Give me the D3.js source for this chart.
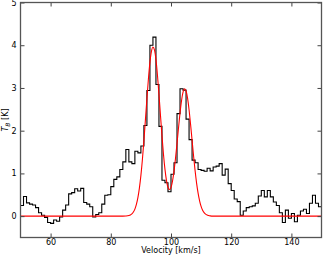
<!DOCTYPE html>
<html>
<head>
<meta charset="utf-8">
<script src="https://cdn.jsdelivr.net/npm/d3@7"></script>
<style>
body { margin: 0; background: #fff; }
svg { display: block; font-family: "DejaVu Sans", sans-serif; }
</style>
</head>
<body>
<div id="chart"></div>
<script>
// spectrum channels (left edge of each 1 km/s channel) and brightness temperature
var velocity = [50, 51, 52, 53, 54, 55, 56, 57, 58, 59,
	60, 61, 62, 63, 64, 65, 66, 67, 68, 69,
	70, 71, 72, 73, 74, 75, 76, 77, 78, 79,
	80, 81, 82, 83, 84, 85, 86, 87, 88, 89,
	90, 91, 92, 93, 94, 95, 96, 97, 98, 99,
	100, 101, 102, 103, 104, 105, 106, 107, 108, 109,
	110, 111, 112, 113, 114, 115, 116, 117, 118, 119,
	120, 121, 122, 123, 124, 125, 126, 127, 128, 129,
	130, 131, 132, 133, 134, 135, 136, 137, 138, 139,
	140, 141, 142, 143, 144, 145, 146, 147, 148, 149];
var tb = [0.25, 0.46, 0.31, 0.28, 0.26, 0.2, 0.08, 0.02, -0.03, -0.15,
	-0.17, -0.09, -0.12, -0.02, 0.14, 0.26, 0.52, 0.55, 0.64, 0.59,
	0.65, 0.32, 0.28, 0.22, -0.02, 0.04, 0.08, 0.28, 0.49, 0.5,
	0.69, 0.86, 0.92, 1.09, 1.27, 1.56, 1.27, 1.23, 1.52, 1.48,
	1.64, 2.12, 2.94, 4.0, 4.19, 3.08, 2.1, 0.84, 0.78, 0.57,
	0.98, 1.25, 2.4, 2.98, 2.95, 2.27, 1.79, 1.31, 1.25, 1.09,
	1.07, 1.05, 1.12, 1.06, 1.15, 1.17, 1.23, 0.96, 1.1, 0.76,
	0.6, 0.4, 0.34, 0.02, 0.12, 0.2, 0.22, 0.24, 0.3, 0.47,
	0.6, 0.45, 0.6, 0.45, 0.33, 0.25, 0.08, -0.15, 0.14, -0.05,
	0.06, -0.13, 0.02, 0.12, 0.16, 0.06, 0.3, 0.49, 0.3, 0.22];

// two-component fit
var modelV = [50, 84, 85, 86, 86.5, 87, 87.5, 88, 88.5, 89, 89.5, 90, 90.5, 91, 91.5,
	92, 92.5, 93, 93.5, 94, 94.5, 95, 95.5, 96, 96.5, 97, 97.5, 98, 98.5, 99, 99.5,
	100, 100.5, 101, 101.5, 102, 102.5, 103, 103.5, 104, 104.5, 105, 105.5, 106, 106.5,
	107, 107.5, 108, 108.5, 109, 109.5, 110, 110.5, 111, 111.5, 112, 112.5, 113, 114, 150];
var modelT = [0, 0, 0.003, 0.014, 0.028, 0.053, 0.096, 0.165, 0.274, 0.433, 0.655, 0.953, 1.326, 1.766, 2.253,
	2.749, 3.215, 3.599, 3.857, 3.96, 3.891, 3.662, 3.299, 2.852, 2.363, 1.882, 1.45, 1.094, 0.833, 0.676, 0.623,
	0.673, 0.819, 1.052, 1.354, 1.703, 2.07, 2.417, 2.705, 2.9, 2.98, 2.93, 2.76, 2.489, 2.149,
	1.777, 1.408, 1.067, 0.774, 0.538, 0.359, 0.228, 0.139, 0.081, 0.046, 0.024, 0.013, 0.006, 0.001, 0];

var xDomain = [50, 150];
var yDomain = [-0.5, 5];
var xTicks = [60, 80, 100, 120, 140];
var yTicks = [0, 1, 2, 3, 4, 5];

var W = 323, H = 257;
var M = {t: 2.5, r: 1.5, b: 19.5, l: 20.5};

var svg = d3.select('#chart').append('svg')
	.attr('width', W)
	.attr('height', H);

var scaleX = d3.scaleLinear().domain(xDomain).range([M.l, W - M.r]);
var scaleY = d3.scaleLinear().domain(yDomain).range([H - M.b, M.t]);

svg.append('clipPath').attr('id', 'plot-clip')
	.append('rect')
	.attr('x', M.l).attr('y', M.t)
	.attr('width', W - M.r - M.l)
	.attr('height', H - M.b - M.t);

// ** ------- DATA ------- **
var steps = velocity.map(function(v, i) { return {v: v, t: tb[i]}; });
steps.push({v: xDomain[1], t: tb[tb.length - 1]});

var model = modelV.map(function(v, i) { return {v: v, t: modelT[i]}; });

var stepLine = d3.line()
	.x(function(d) { return scaleX(d.v); })
	.y(function(d) { return scaleY(d.t); })
	.curve(d3.curveStepAfter);

var modelLine = d3.line()
	.x(function(d) { return scaleX(d.v); })
	.y(function(d) { return scaleY(d.t); })
	.curve(d3.curveMonotoneX);

var plot = svg.append('g').attr('clip-path', 'url(#plot-clip)');

plot.append('path')
	.datum(steps)
	.attr('d', stepLine)
	.attr('fill', 'none')
	.attr('stroke', '#000')
	.attr('stroke-width', 1.1);

plot.append('path')
	.datum(model)
	.attr('d', modelLine)
	.attr('fill', 'none')
	.attr('stroke', '#ff0000')
	.attr('stroke-width', 1.1);

// ** ------- AXES ------- **
var axisBottom = d3.axisBottom(scaleX).tickValues(xTicks).tickSize(-4).tickPadding(1.5);
var axisTop = d3.axisTop(scaleX).tickValues(xTicks).tickSize(-4).tickFormat('');
var axisLeft = d3.axisLeft(scaleY).tickValues(yTicks).tickSize(-4).tickPadding(4).tickFormat(d3.format('d'));
var axisRight = d3.axisRight(scaleY).tickValues(yTicks).tickSize(-4).tickFormat('');

svg.append('g').attr('class', 'axis').attr('transform', 'translate(0,' + (H - M.b) + ')').call(axisBottom);
svg.append('g').attr('class', 'axis').attr('transform', 'translate(0,' + M.t + ')').call(axisTop);
svg.append('g').attr('class', 'axis').attr('transform', 'translate(' + M.l + ',0)').call(axisLeft);
svg.append('g').attr('class', 'axis').attr('transform', 'translate(' + (W - M.r) + ',0)').call(axisRight);

svg.selectAll('.axis .domain').remove();
svg.selectAll('.axis line').attr('stroke', '#444').attr('stroke-width', 1);
svg.selectAll('.axis text').attr('fill', '#000').style('font-size', '8px').style('font-family', '"DejaVu Sans", sans-serif');

svg.append('rect')
	.attr('x', M.l).attr('y', M.t)
	.attr('width', W - M.r - M.l)
	.attr('height', H - M.b - M.t)
	.attr('fill', 'none')
	.attr('stroke', '#555')
	.attr('stroke-width', 1.3);

// axis labels
svg.append('text')
	.attr('x', (M.l + W - M.r) / 2)
	.attr('y', 253)
	.attr('text-anchor', 'middle')
	.style('font-size', '8px')
	.text('Velocity [km/s]');

var ylab = svg.append('text')
	.attr('transform', 'translate(8,' + ((M.t + H - M.b) / 2) + ') rotate(-90)')
	.attr('text-anchor', 'middle')
	.style('font-size', '8px');
ylab.append('tspan').style('font-style', 'italic').text('T');
ylab.append('tspan').style('font-style', 'italic').style('font-size', '6px').attr('dy', 2).text('B');
ylab.append('tspan').attr('dy', -2).text(' [K]');
</script>
</body>
</html>
